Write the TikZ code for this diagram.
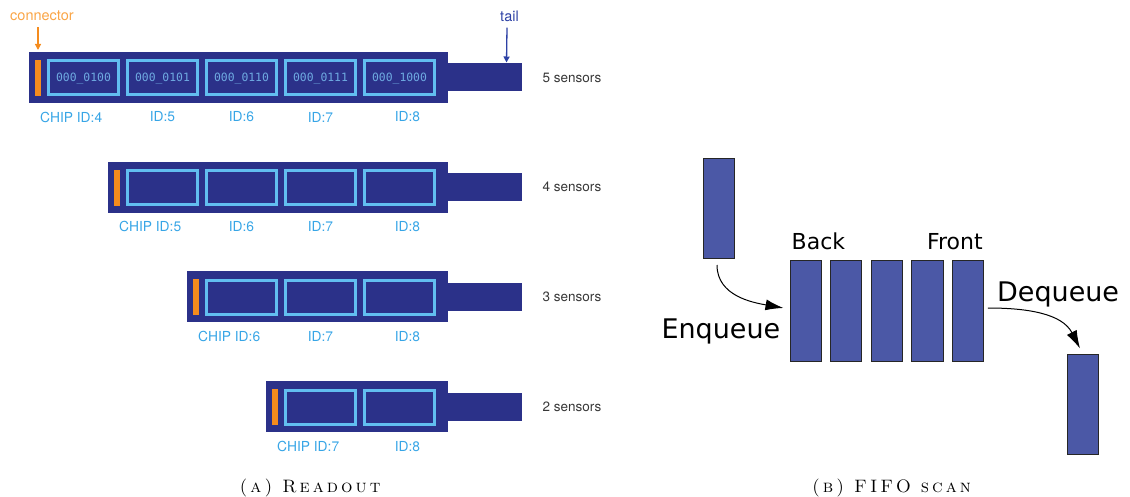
\documentclass[tikz,border=0pt]{standalone}
\usepackage{fontspec}
\newfontfamily\heros{TeX Gyre Heros}
\newfontfamily\dejavu{DejaVu Sans}
\newfontfamily\dejamono{DejaVu Sans Mono}
\newfontfamily\capfont[LetterSpace=17]{lmromancaps10-regular.otf}
\usetikzlibrary{arrows.meta,positioning,calc}
\definecolor{navy}{RGB}{43,49,137}
\definecolor{cellblue}{RGB}{98,190,240}
\definecolor{monoblue}{RGB}{110,170,225}
\definecolor{conorange}{RGB}{245,140,30}
\definecolor{conlabel}{RGB}{250,165,70}
\definecolor{idblue}{RGB}{55,165,230}
\definecolor{tailblue}{RGB}{45,65,165}
\definecolor{cntgray}{RGB}{55,55,55}
\definecolor{fifoblue}{RGB}{75,88,166}

\begin{document}
\begin{tikzpicture}[x=1pt, y=-1pt,
        strip/.style={fill=navy, inner sep=0, outer sep=0, minimum height=51pt},
        tailbox/.style={fill=navy, inner sep=0, outer sep=0, minimum width=74pt, minimum height=28pt},
        cell/.style={draw=cellblue, line width=3pt, fill=navy, inner sep=0, minimum width=70pt, minimum height=34pt},
        celltxt/.style={font=\dejamono\fontsize{11.4}{13}\selectfont, text=monoblue, inner sep=0},
        bar/.style={fill=conorange, inner sep=0, minimum width=6pt, minimum height=36pt},
        idlbl/.style={font=\heros\fontsize{13.8}{15}\selectfont, text=idblue, inner sep=0},
        cntlbl/.style={font=\heros\fontsize{13.5}{15}\selectfont, text=cntgray, inner sep=0},
        toplbl/.style={font=\heros\fontsize{14.5}{16}\selectfont, inner sep=0},
        small arrow/.style={-{Triangle[length=6pt,width=6pt]}, line width=1.3pt},
        fblock/.style={draw=black!85, line width=0.8pt, fill=fifoblue, inner sep=0, minimum width=31.2pt, minimum height=100.2pt},
        flbl/.style={font=\dejavu\fontsize{22}{26}\selectfont, inner sep=0},
        fbig/.style={font=\dejavu\fontsize{27}{32}\selectfont, inner sep=0},
        farrow/.style={-{Latex[length=18pt,width=11pt]}, line width=1pt},
        caption/.style={font=\capfont\fontsize{18}{20}\selectfont, inner sep=0}
      ]
        \useasboundingbox (0,0) rectangle (1130,497);
        \foreach \s/\first in {0/4,1/5,2/6,3/7}{
          \pgfmathsetmacro\ytop{52+109.7*\s}
          \pgfmathsetmacro\cx{363-79*(8-\first)}
          \pgfmathsetmacro\sw{448-\cx+18}
          \pgfmathtruncatemacro\cnt{9-\first}
          \node[strip, minimum width=\sw pt, anchor=north west] (s\s) at (\cx-18,\ytop) {};
          \node[tailbox, anchor=west] (t\s) at ($(s\s.east)+(-0.5,0)$) {};
          \node[cntlbl, anchor=west] (n\s) at ($(t\s.east)+(21,0)$) {\cnt{} sensors};
          \foreach \id in {\first,...,8}{
            \node[cell] (c\s-\id) at ({\cx+79*(\id-\first)+36.5},\ytop+26) {};
            \ifnum\id=\first
              \node[idlbl, anchor=west] (l\s-\id) at ($(c\s-\id.south west)+(-7,20.5)$) {CHIP ID:\id};
            \else
              \pgfmathsetmacro\off{ifthenelse(\id==8,8,0)}
              \node[idlbl] (l\s-\id) at ($(c\s-\id.south)+(\off,20.5)$) {ID:\id};
            \fi
          }
          \node[bar] (b\s) at ($(c\s-\first.west)+(-9,0)$) {};
        }
        \foreach \id/\bin in {4/000\_0100,5/000\_0101,6/000\_0110,7/000\_0111,8/000\_1000}
          \node[celltxt] (x\id) at ($(c0-\id)+(0,1)$) {\bin};

        \node[toplbl, text=conlabel] (conn) at (42,16) {connector};
        \node[toplbl, text=tailblue] (tl) at (509.5,16) {tail};
        \draw[small arrow, conorange] ($(conn.south -| b0)+(0,6)$) -- ($(s0.north -| b0)+(0,-2)$);
        \draw[small arrow, tailblue] ($(tl.south)+(-2.5,6)$) -- ($(t0.north east)+(-15,-1)$);

        \node[fblock] (q1) at (805.5,311) {};
        \foreach \i/\j in {2/1,3/2,4/3,5/4}
          \node[fblock, right=8.6pt of q\j] (q\i) {};
        \node[fblock] (inq) at (719,208.5) {};
        \node[fblock] (outq) at (1083,404) {};
        \node[flbl, anchor=base west] (back) at ($(q1.north west)+(2,-10.5)$) {Back};
        \node[flbl, anchor=base east] (front) at ($(q5.north east)+(-1,-10.5)$) {Front};
        \node[fbig, anchor=base east] (enq) at ($(q1.west)+(-9,27)$) {Enqueue};
        \node[fbig, anchor=base west] (deq) at ($(q5.east)+(13,-10)$) {Dequeue};
        \draw[farrow] ($(inq.south)+(-2,6)$) to[out=-90,in=170] ($(q1.west)+(-6,-3)$);
        \draw[farrow] ($(q5.east)+(4,-3)$) to[out=0,in=117] ($(outq.north)+(-3,-5)$);

        \node[caption, anchor=base] (capa) at (310,492.5) {(a) Readout};
        \node[caption, anchor=base] (capb) at (891.5,492.5) {(b) FIFO scan};
      \end{tikzpicture}
\end{document}
